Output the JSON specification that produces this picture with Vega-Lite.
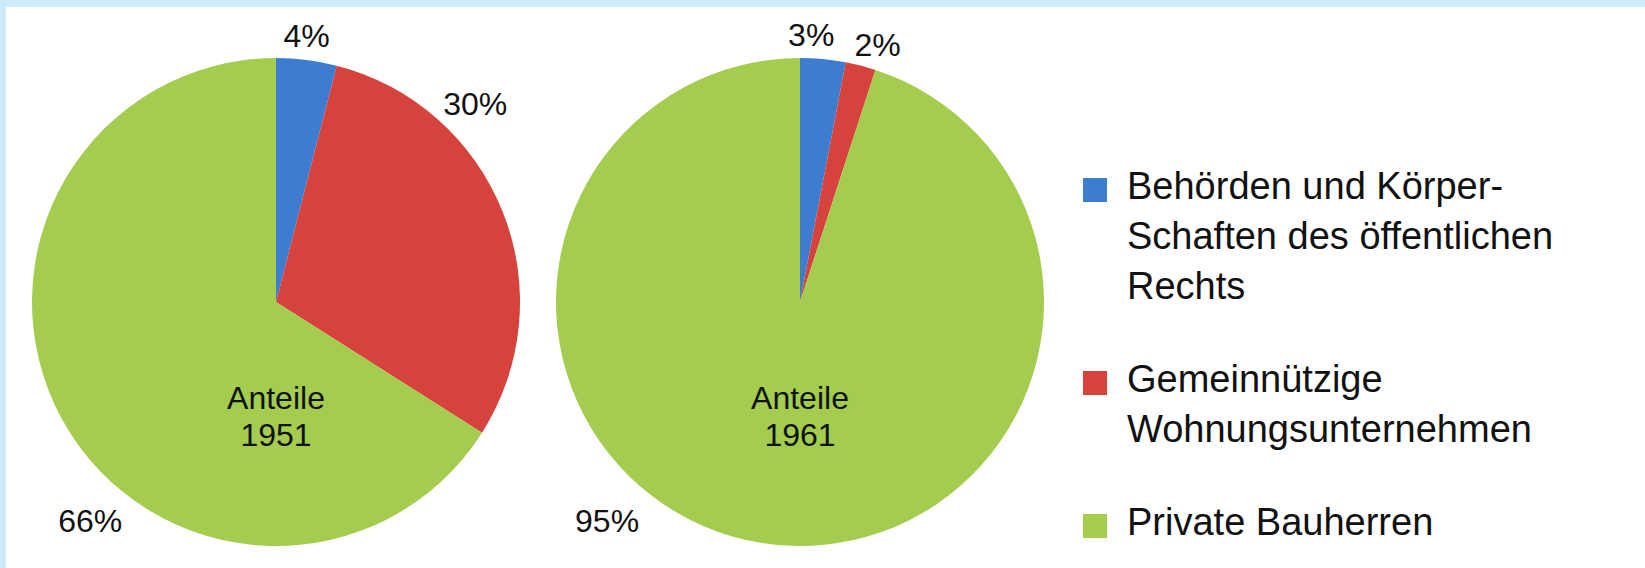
{
  "$schema": "https://vega.github.io/schema/vega-lite/v6.json",
  "width": 1639,
  "height": 561,
  "autosize": "none",
  "padding": {"left": 6, "top": 7, "right": 0, "bottom": 0},
  "background": "#cdebfb",
  "config": {
    "view": {"fill": "white", "stroke": null},
    "font": "Liberation Sans",
    "text": {"font": "Liberation Sans", "fontSize": 32, "color": "#111"}
  },
  "datasets": {
    "anteile": [
      {"Jahr": "1951", "Bauherr": "Behörden und Körper-\nSchaften des öffentlichen\nRechts", "Anteil": 0.04},
      {"Jahr": "1951", "Bauherr": "Gemeinnützige\nWohnungsunternehmen", "Anteil": 0.30},
      {"Jahr": "1951", "Bauherr": "Private Bauherren", "Anteil": 0.66},
      {"Jahr": "1961", "Bauherr": "Behörden und Körper-\nSchaften des öffentlichen\nRechts", "Anteil": 0.03},
      {"Jahr": "1961", "Bauherr": "Gemeinnützige\nWohnungsunternehmen", "Anteil": 0.02},
      {"Jahr": "1961", "Bauherr": "Private Bauherren", "Anteil": 0.95}
    ],
    "titel": [
      {"Jahr": "1951", "Titel": "Anteile\n1951"},
      {"Jahr": "1961", "Titel": "Anteile\n1961"}
    ]
  },
  "data": {"name": "anteile"},
  "encoding": {
    "x": {"field": "Jahr", "type": "nominal", "scale": {"type": "point", "domain": ["1951", "1961"], "range": [270, 794], "padding": 0}, "axis": null},
    "y": {"field": "Jahr", "type": "nominal", "scale": {"type": "point", "domain": ["1951", "1961"], "range": [295, 295], "padding": 0}, "axis": null}
  },
  "layer": [
    {
      "transform": [{"filter": "datum.Jahr == '1951'"}],
      "mark": {"type": "arc", "radius": 244},
      "encoding": {
        "theta": {"field": "Anteil", "type": "quantitative", "stack": true},
        "order": {"field": "Bauherr", "type": "nominal", "sort": "ascending"},
        "color": {
          "field": "Bauherr", "type": "nominal",
          "scale": {
            "domain": ["Behörden und Körper-\nSchaften des öffentlichen\nRechts", "Gemeinnützige\nWohnungsunternehmen", "Private Bauherren"],
            "range": ["#3c7dd0", "#d6423c", "#a4cc4e"]
          },
          "legend": {
            "orient": "none", "legendX": 1070, "legendY": 164, "title": null,
            "labelExpr": "split(datum.label, '\\n')",
            "labelFont": "Liberation Sans", "labelFontSize": 38, "labelColor": "#111",
            "labelLimit": 0, "labelOffset": 13, "labelBaseline": "top",
            "symbolType": "square", "symbolSize": 576, "symbolStrokeWidth": 0, "symbolOpacity": 1,
            "rowPadding": 55,
            "encode": {"labels": {"update": {"lineHeight": {"value": 50}, "dy": {"value": -21}}}}
          }
        }
      }
    },
    {
      "transform": [{"filter": "datum.Jahr == '1961'"}],
      "mark": {"type": "arc", "radius": 244},
      "encoding": {
        "theta": {"field": "Anteil", "type": "quantitative", "stack": true},
        "order": {"field": "Bauherr", "type": "nominal", "sort": "ascending"},
        "color": {"field": "Bauherr", "type": "nominal"}
      }
    },
    {
      "transform": [{"filter": "datum.Jahr == '1951'"}],
      "mark": {"type": "text", "radius": 268, "dx": -3, "dy": 1},
      "encoding": {
        "theta": {"field": "Anteil", "type": "quantitative", "stack": true},
        "order": {"field": "Bauherr", "type": "nominal", "sort": "ascending"},
        "text": {"condition": {"test": "indexof(datum.Bauherr, 'Behörden') == 0", "field": "Anteil", "type": "quantitative", "format": ".0%"}, "value": ""}
      }
    },
    {
      "transform": [{"filter": "datum.Jahr == '1951'"}],
      "mark": {"type": "text", "radius": 268, "dx": -50, "dy": -98},
      "encoding": {
        "theta": {"field": "Anteil", "type": "quantitative", "stack": true},
        "order": {"field": "Bauherr", "type": "nominal", "sort": "ascending"},
        "text": {"condition": {"test": "indexof(datum.Bauherr, 'Gemein') == 0", "field": "Anteil", "type": "quantitative", "format": ".0%"}, "value": ""}
      }
    },
    {
      "transform": [{"filter": "datum.Jahr == '1951'"}],
      "mark": {"type": "text", "radius": 268, "dx": 49, "dy": 91},
      "encoding": {
        "theta": {"field": "Anteil", "type": "quantitative", "stack": true},
        "order": {"field": "Bauherr", "type": "nominal", "sort": "ascending"},
        "text": {"condition": {"test": "indexof(datum.Bauherr, 'Private') == 0", "field": "Anteil", "type": "quantitative", "format": ".0%"}, "value": ""}
      }
    },
    {
      "transform": [{"filter": "datum.Jahr == '1961'"}],
      "mark": {"type": "text", "radius": 268, "dx": -14, "dy": 1},
      "encoding": {
        "theta": {"field": "Anteil", "type": "quantitative", "stack": true},
        "order": {"field": "Bauherr", "type": "nominal", "sort": "ascending"},
        "text": {"condition": {"test": "indexof(datum.Bauherr, 'Behörden') == 0", "field": "Anteil", "type": "quantitative", "format": ".0%"}, "value": ""}
      }
    },
    {
      "transform": [{"filter": "datum.Jahr == '1961'"}],
      "mark": {"type": "text", "radius": 268, "dx": 11, "dy": 4},
      "encoding": {
        "theta": {"field": "Anteil", "type": "quantitative", "stack": true},
        "order": {"field": "Bauherr", "type": "nominal", "sort": "ascending"},
        "text": {"condition": {"test": "indexof(datum.Bauherr, 'Gemein') == 0", "field": "Anteil", "type": "quantitative", "format": ".0%"}, "value": ""}
      }
    },
    {
      "transform": [{"filter": "datum.Jahr == '1961'"}],
      "mark": {"type": "text", "radius": 268, "dx": -151, "dy": -45},
      "encoding": {
        "theta": {"field": "Anteil", "type": "quantitative", "stack": true},
        "order": {"field": "Bauherr", "type": "nominal", "sort": "ascending"},
        "text": {"condition": {"test": "indexof(datum.Bauherr, 'Private') == 0", "field": "Anteil", "type": "quantitative", "format": ".0%"}, "value": ""}
      }
    },
    {
      "data": {"name": "titel"},
      "mark": {"type": "text", "lineBreak": "\n", "lineHeight": 37, "dy": 97},
      "encoding": {
        "text": {"field": "Titel"}
      }
    }
  ]
}
